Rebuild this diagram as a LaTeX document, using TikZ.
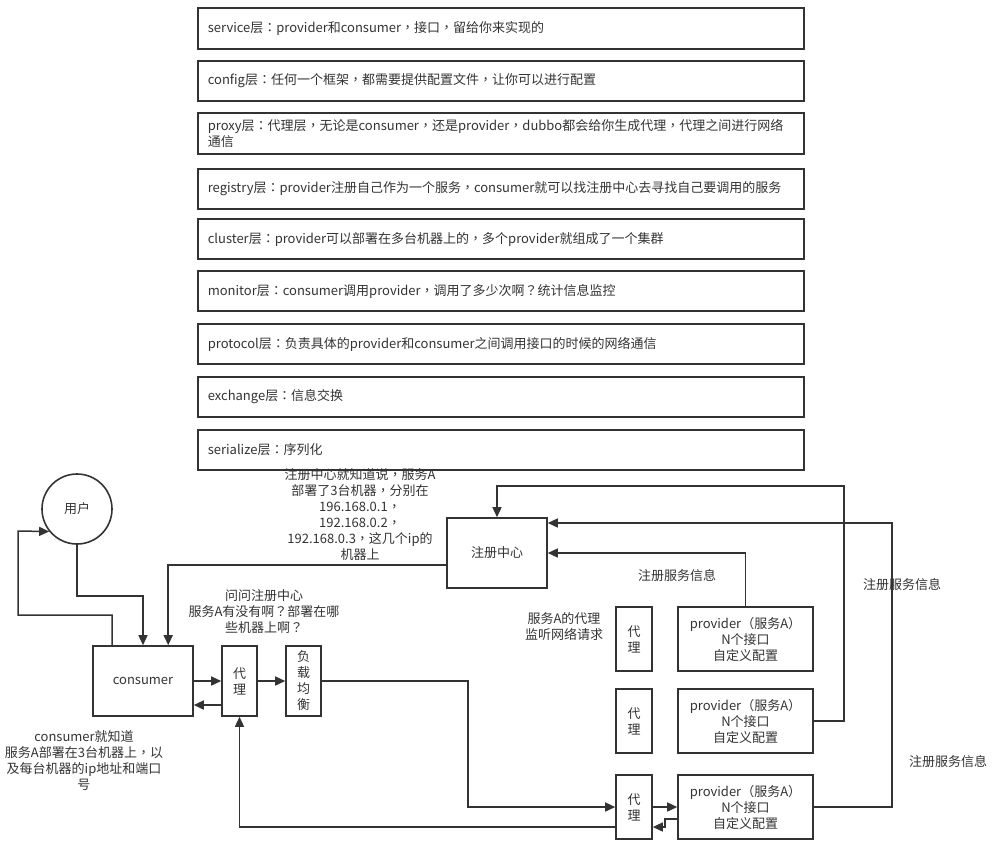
\documentclass[tikz,border=0pt]{standalone}
\usepackage{fontspec}
\setmainfont{Noto Sans CJK SC}
\newfontfamily\tcfont{Noto Sans CJK TC}
\newcommand\zcm{{\tcfont ，}}
\newcommand\zcl{{\tcfont ：}}
\newcommand\zqm{{\tcfont ？}}
\usetikzlibrary{arrows.meta}
\definecolor{ink}{HTML}{333333}
\begin{document}
\begin{tikzpicture}[x=1pt,y=-1pt,
  every node/.style={font=\fontsize{13}{16}\selectfont, text=ink},
  box/.style={draw=ink, line width=1.6pt, inner sep=0pt, align=center},
  layer/.style={box, anchor=west, minimum width=606pt, minimum height=40pt, text width=586pt, inner xsep=10pt, align=left},
  conn/.style={draw=ink, line width=1.5pt, -{Triangle[length=10pt,width=9pt]}},
  lbl/.style={align=center, inner sep=0pt}]
\useasboundingbox (0,0) rectangle (1000,847);

% layer boxes
\node[layer, minimum height=41pt] (L1) at (197,28.5) {service层\zcl provider和consumer\zcm 接口\zcm 留给你来实现的};
\node[layer] (L2) at (197,81) {config层\zcl 任何一个框架\zcm 都需要提供配置文件\zcm 让你可以进行配置};
\node[layer, minimum height=41pt] (L3) at (197,133.5) {proxy层\zcl 代理层\zcm 无论是consumer\zcm 还是provider\zcm dubbo都会给你生成代理\zcm 代理之间进行网络\\通信};
\node[layer] (L4) at (197,189) {registry层\zcl provider注册自己作为一个服务\zcm consumer就可以找注册中心去寻找自己要调用的服务};
\node[layer] (L5) at (197,239) {cluster层\zcl provider可以部署在多台机器上的\zcm 多个provider就组成了一个集群};
\node[layer] (L6) at (197,291) {monitor层\zcl consumer调用provider\zcm 调用了多少次啊\zqm 统计信息监控};
\node[layer] (L7) at (197,344) {protocol层\zcl 负责具体的provider和consumer之间调用接口的时候的网络通信};
\node[layer] (L8) at (197,397) {exchange层\zcl 信息交换};
\node[layer] (L9) at (197,450) {serialize层\zcl 序列化};

% diagram nodes
\node[box, circle, minimum size=70pt] (user) at (77,509) {用户};
\node[box, minimum width=100pt, minimum height=70pt] (consumer) at (143,681) {consumer};
\node[box, minimum width=35pt, minimum height=70pt] (cproxy) at (239.5,681) {代\\理};
\node[box, minimum width=35pt, minimum height=70pt] (lb) at (303.5,681) {负\\载\\均\\衡};
\node[box, minimum width=100pt, minimum height=70pt] (reg) at (497,553) {注册中心};
\node[box, minimum width=36pt, minimum height=64pt] (pp1) at (634,639) {代\\理};
\node[box, minimum width=36pt, minimum height=64pt] (pp2) at (634,721) {代\\理};
\node[box, minimum width=36pt, minimum height=64pt] (pp3) at (634,807) {代\\理};
\node[box, minimum width=135pt, minimum height=64pt] (prov1) at (745.5,639) {provider（服务A）\\N个接口\\自定义配置};
\node[box, minimum width=135pt, minimum height=64pt] (prov2) at (745.5,721) {provider（服务A）\\N个接口\\自定义配置};
\node[box, minimum width=135pt, minimum height=64pt] (prov3) at (745.5,807) {provider（服务A）\\N个接口\\自定义配置};

% labels
\node[lbl] (regnote) at (360,514.5) {注册中心就知道说\zcm 服务A\\部署了3台机器\zcm 分别在\\196.168.0.1\zcm\\192.168.0.2\zcm\\192.168.0.3\zcm 这几个ip的\\机器上};
\node[lbl] (asknote) at (264,612) {问问注册中心\\服务A有没有啊\zqm 部署在哪\\些机器上啊\zqm};
\node[lbl] (knownote) at (84,761) {consumer就知道\\服务A部署在3台机器上\zcm 以\\及每台机器的ip地址和端口\\号};
\node[lbl] (svc1) at (677,576) {注册服务信息};
\node[lbl] (listen) at (564,627) {服务A的代理\\监听网络请求};
\node[lbl] (svc2) at (902,585) {注册服务信息};
\node[lbl] (svc3) at (948,762) {注册服务信息};

% connectors
\coordinate (uin) at (18,531);
\coordinate (lbx) at (468,681);
\draw[conn] (user.south) -- ++(0,51) -| (consumer.north);
\draw[conn] ([xshift=20pt]consumer.north west) -- ++(0,-30) -| (uin) -- (user.219);
\draw[conn] ([yshift=-12pt]reg.west) -| ([xshift=76pt]consumer.north west);
\draw[conn] (consumer.east) -- (cproxy.west);
\draw[conn] ([yshift=-24pt]cproxy.west) -- ([yshift=-24pt]consumer.east);
\draw[conn] (cproxy.east) -- (lb.west);
\draw[conn] (lb.east) -- (lbx) |- (pp3.west);
\draw[conn] (pp3.east) -- (prov3.west);
\draw[conn] ([yshift=-12pt]prov3.west) -- ++(-12,0) |- ([yshift=-20pt]pp3.east);
\draw[conn] ([yshift=-20pt]pp3.west) -| (cproxy.south);
\draw[conn] (prov1.north) |- (reg.east);
\draw[conn] (prov3.east) -- ++(78,0) |- ([yshift=30pt]reg.east);
\draw[conn] (prov2.east) -- ++(30,0) |- ([yshift=31pt]reg.north) -- (reg.north);
\end{tikzpicture}
\end{document}
